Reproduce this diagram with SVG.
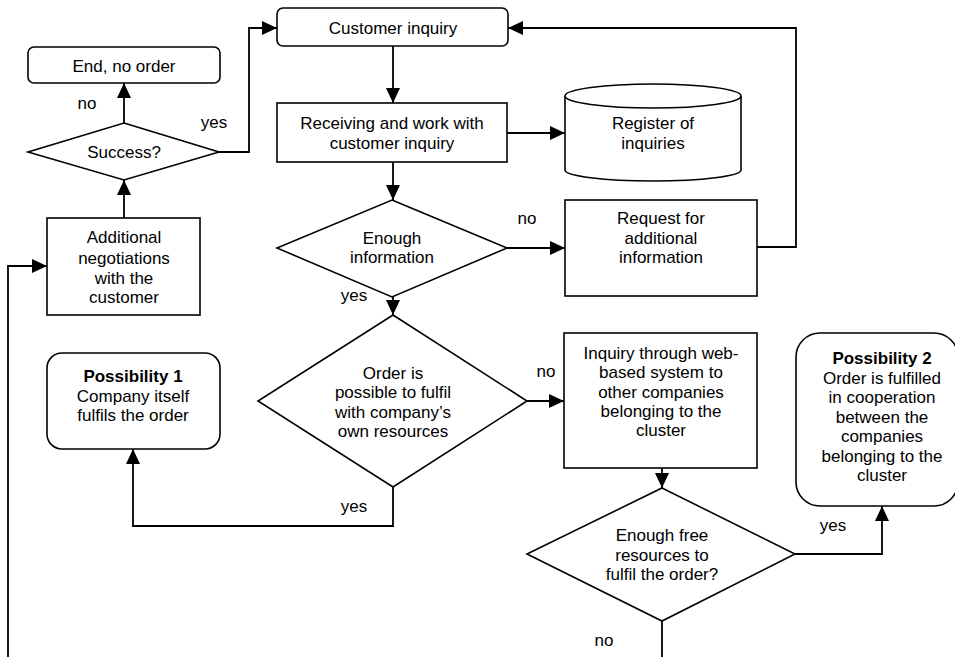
<svg xmlns="http://www.w3.org/2000/svg" width="955" height="657" viewBox="0 0 955 657">
<style>
.s{fill:#fff;stroke:#000;stroke-width:1.6}
.c{fill:none;stroke:#000;stroke-width:1.8}
text{font-family:"Liberation Sans",Arial,sans-serif;font-size:17px;fill:#000;text-anchor:middle}
.b{font-weight:bold}
</style>
<defs>
<marker id="ah" markerUnits="userSpaceOnUse" markerWidth="15" markerHeight="14" refX="15" refY="7" orient="auto">
<path d="M0,0 L15,7 L0,14 z" fill="#000"/>
</marker>
</defs>
<rect width="955" height="657" fill="#fff"/>
<g id="connectors">
<path class="c" d="M393,46 V103" marker-end="url(#ah)"/>
<path class="c" d="M393,162 V200" marker-end="url(#ah)"/>
<path class="c" d="M507,133 H565" marker-end="url(#ah)"/>
<path class="c" d="M507,248 H565" marker-end="url(#ah)"/>
<path class="c" d="M757,247 H796 V28 H508" marker-end="url(#ah)"/>
<path class="c" d="M393,297 V315" marker-end="url(#ah)"/>
<path class="c" d="M527,401 H564" marker-end="url(#ah)"/>
<path class="c" d="M393,487 V526 H133 V449" marker-end="url(#ah)"/>
<path class="c" d="M662,468 V488" marker-end="url(#ah)"/>
<path class="c" d="M795,554 H882 V506" marker-end="url(#ah)"/>
<path class="c" d="M662,621 V657"/>
<path class="c" d="M8,657 V266 H47" marker-end="url(#ah)"/>
<path class="c" d="M124,218 V180" marker-end="url(#ah)"/>
<path class="c" d="M124,123 V83" marker-end="url(#ah)"/>
<path class="c" d="M219,152 H249 V28 H277" marker-end="url(#ah)"/>
<text x="87" y="109">no</text>
<text x="214" y="128">yes</text>
<text x="527" y="224">no</text>
<text x="354" y="301">yes</text>
<text x="546" y="377">no</text>
<text x="354" y="512">yes</text>
<text x="833" y="531">yes</text>
<text x="604" y="646">no</text>
</g>
<g id="customer-inquiry">
<rect class="s" x="277" y="8" width="231" height="38" rx="6"/>
<text x="393" y="34">Customer inquiry</text>
</g>
<g id="end-no-order">
<rect class="s" x="28" y="47" width="192" height="36" rx="6"/>
<text x="124" y="72">End, no order</text>
</g>
<g id="success">
<path class="s" d="M124,123 L219,152 L124,180 L28,152 z"/>
<text x="124" y="158">Success?</text>
</g>
<g id="additional-negotiations">
<rect class="s" x="47" y="218" width="153" height="97"/>
<text x="124" y="243">Additional</text>
<text x="124" y="264">negotiations</text>
<text x="124" y="284">with the</text>
<text x="124" y="303">customer</text>
</g>
<g id="receiving">
<rect class="s" x="277" y="103" width="230" height="59"/>
<text x="392" y="129">Receiving and work with</text>
<text x="392" y="149">customer inquiry</text>
</g>
<g id="register">
<path class="s" d="M565,96 V170 A88,11 0 0 0 741,170 V96"/>
<ellipse class="s" cx="653" cy="96" rx="88" ry="12"/>
<text x="653" y="129">Register of</text>
<text x="653" y="149">inquiries</text>
</g>
<g id="enough-information">
<path class="s" d="M392,200 L507,248 L392,297 L277,248 z"/>
<text x="392" y="244">Enough</text>
<text x="392" y="263">information</text>
</g>
<g id="request">
<rect class="s" x="565" y="200" width="192" height="96"/>
<text x="661" y="224">Request for</text>
<text x="661" y="244">additional</text>
<text x="661" y="263">information</text>
</g>
<g id="order-possible">
<path class="s" d="M393,315 L527,401 L393,487 L258,401 z"/>
<text x="393" y="379">Order is</text>
<text x="393" y="398">possible to fulfil</text>
<text x="393" y="418">with company’s</text>
<text x="393" y="437">own resources</text>
</g>
<g id="possibility-1">
<rect class="s" x="47" y="353" width="173" height="96" rx="15"/>
<text class="b" x="133" y="382">Possibility 1</text>
<text x="133" y="402">Company itself</text>
<text x="133" y="421">fulfils the order</text>
</g>
<g id="inquiry-web">
<rect class="s" x="564" y="333" width="193" height="135"/>
<text x="661" y="359">Inquiry through web-</text>
<text x="661" y="378">based system to</text>
<text x="661" y="398">other companies</text>
<text x="661" y="417">belonging to the</text>
<text x="661" y="436">cluster</text>
</g>
<g id="enough-free">
<path class="s" d="M662,488 L795,554 L662,621 L527,554 z"/>
<text x="662" y="541">Enough free</text>
<text x="662" y="561">resources to</text>
<text x="662" y="580">fulfil the order?</text>
</g>
<g id="possibility-2">
<rect class="s" x="796" y="333" width="162" height="173" rx="24"/>
<text class="b" x="882" y="364">Possibility 2</text>
<text x="882" y="384">Order is fulfilled</text>
<text x="882" y="403">in cooperation</text>
<text x="882" y="423">between the</text>
<text x="882" y="442">companies</text>
<text x="882" y="462">belonging to the</text>
<text x="882" y="481">cluster</text>
</g>
</svg>
